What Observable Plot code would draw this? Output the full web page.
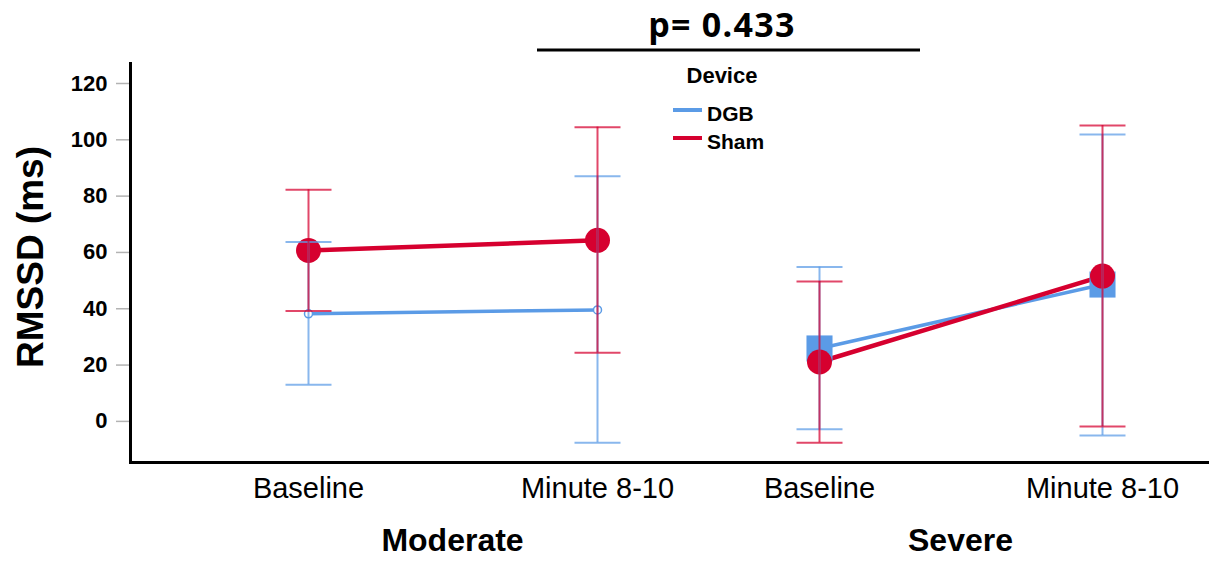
<!DOCTYPE html>
<html>
<head>
<meta charset="utf-8">
<script src="https://cdn.jsdelivr.net/npm/d3@7"></script>
<script src="https://cdn.jsdelivr.net/npm/@observablehq/plot@0.6"></script>
<style>
  body { margin: 0; background: #fff; }
  #wrap { position: relative; width: 1209px; height: 561px; overflow: hidden; font-family: "Liberation Sans", Arial, sans-serif; }
  #wrap > svg { position: absolute; top: 0; }
</style>
</head>
<body>
<div id="wrap"></div>
<script>
// ---- data ----
const devices = ["DGB", "Sham"];
const groups = ["Moderate", "Severe"];
const times = ["Baseline", "Minute 8-10"];
// order: Moderate-Baseline, Moderate-Minute 8-10, Severe-Baseline, Severe-Minute 8-10
const dgbMean  = [38.2, 39.6, 25.9, 48.6];
const dgbLow   = [13.0, -7.6, -2.8, -5.0];
const dgbHigh  = [63.7, 87.1, 54.8, 101.9];
const shamMean = [60.7, 64.3, 21.1, 51.6];
const shamLow  = [39.2, 24.4, -7.6, -1.8];
const shamHigh = [82.3, 104.5, 49.7, 105.1];
const yTicks = [0, 20, 40, 60, 80, 100, 120];
const yDomain = [-14.6, 127.1];
const yLabel = "RMSSD (ms)";
const titleText = "p= 0.433";
const legendTitle = "Device";

const colors = { DGB: "#5b9be6", Sham: "#d6002f" };

const rows = [];
groups.forEach((g, gi) => times.forEach((t, ti) => {
  const i = gi * 2 + ti;
  rows.push({ group: g, time: t, device: "DGB", mean: dgbMean[i], low: dgbLow[i], high: dgbHigh[i] });
  rows.push({ group: g, time: t, device: "Sham", mean: shamMean[i], low: shamLow[i], high: shamHigh[i] });
}));

const FONT = "Liberation Sans, Arial, sans-serif";
const H = 561, MT = 63, MB = 99;

// horizontal cap symbol for error bars
const capSymbol = { draw(ctx) { ctx.moveTo(-23, 0); ctx.lineTo(23, 0); } };

function errorMarks(d, color) {
  const o = { x: "time", stroke: color, strokeWidth: 2, strokeOpacity: 0.72 };
  return [
    Plot.ruleX(d, { ...o, y1: "low", y2: "high" }),
    Plot.dot(d, { ...o, y: "low", symbol: capSymbol, fill: "none" }),
    Plot.dot(d, { ...o, y: "high", symbol: capSymbol, fill: "none" })
  ];
}

function panel(group, cfg) {
  const d = rows.filter(r => r.group === group);
  const dgb = d.filter(r => r.device === "DGB");
  const sham = d.filter(r => r.device === "Sham");
  const dgbMarker = cfg.square
    ? Plot.dot(dgb, { x: "time", y: "mean", symbol: "square", r: 14.7, fill: colors.DGB })
    : Plot.dot(dgb, { x: "time", y: "mean", r: 4, fill: "white", stroke: colors.DGB, strokeWidth: 1.5 });
  const marks = [
    Plot.line(dgb, { x: "time", y: "mean", stroke: colors.DGB, strokeWidth: 3.5 }),
    Plot.line(sham, { x: "time", y: "mean", stroke: colors.Sham, strokeWidth: 4.5 }),
    dgbMarker,
    Plot.dot(sham, { x: "time", y: "mean", r: 12.5, fill: colors.Sham }),
    ...errorMarks(dgb, colors.DGB),
    ...errorMarks(sham, colors.Sham),
    Plot.ruleY([yDomain[0]], { stroke: "black", strokeWidth: 3 }),
    Plot.axisX({ tickSize: 0, tickPadding: 15, fontSize: 29, label: null, fill: "black" })
  ];
  if (cfg.yAxis) {
    marks.push(Plot.axisY({ ticks: yTicks, tickSize: 14, tickPadding: 9, stroke: "#b3b3b3", strokeWidth: 1.5,
      fontSize: 22, fontWeight: "bold", label: null, fill: "black" }));
    marks.push(Plot.frame({ anchor: "left", stroke: "black", strokeWidth: 3 }));
  }
  return Plot.plot({
    width: cfg.width, height: H,
    marginTop: MT, marginBottom: MB, marginLeft: cfg.marginLeft, marginRight: 0,
    style: { fontFamily: FONT, background: "transparent", overflow: "visible", color: "black" },
    x: { type: "point", domain: times, padding: 0, insetLeft: cfg.insetLeft, insetRight: cfg.insetRight },
    y: { domain: yDomain, axis: cfg.yAxis ? undefined : null },
    marks
  });
}

const wrap = document.getElementById("wrap");
const p1 = panel("Moderate", { width: 697, marginLeft: 130, insetLeft: 178, insetRight: 100, yAxis: true, square: false });
const p2 = panel("Severe", { width: 512, marginLeft: 0, insetLeft: 122, insetRight: 107, yAxis: false, square: true });
p1.style.left = "0px";
p2.style.left = "697px";
wrap.appendChild(p1);
wrap.appendChild(p2);

// overlay: title, legend, axis titles
const svg = d3.select(wrap).append("svg")
  .attr("width", 1209).attr("height", H)
  .style("left", "0px").style("pointer-events", "none")
  .attr("font-family", FONT);

svg.append("text").text(titleText)
  .attr("x", 722).attr("y", 37).attr("text-anchor", "middle")
  .attr("font-family", "Open Sans, Lato, sans-serif").attr("font-weight", "bold").attr("font-size", 34)
  .attr("letter-spacing", 1.3);
svg.append("line").attr("x1", 537).attr("x2", 920).attr("y1", 50).attr("y2", 50)
  .attr("stroke", "black").attr("stroke-width", 3);

svg.append("text").text(legendTitle)
  .attr("x", 722).attr("y", 83).attr("text-anchor", "middle")
  .attr("font-weight", "bold").attr("font-size", 22);
const legY = [110, 138], legBase = [120.7, 149.3];
devices.forEach((dv, i) => {
  svg.append("line").attr("x1", 673).attr("x2", 702).attr("y1", legY[i]).attr("y2", legY[i])
    .attr("stroke", colors[dv]).attr("stroke-width", 4);
  svg.append("text").text(dv).attr("x", 707).attr("y", legBase[i])
    .attr("font-weight", "bold").attr("font-size", 21);
});

svg.append("text").text(yLabel)
  .attr("transform", "translate(43,257) rotate(-90)")
  .attr("text-anchor", "middle").attr("font-weight", "bold").attr("font-size", 37);

// group labels centred between each panel's two x positions
[[p1, 0, groups[0]], [p2, 697, groups[1]]].forEach(([p, off, g]) => {
  const xs = p.scale("x");
  const cx = off + (xs.apply(times[0]) + xs.apply(times[1])) / 2;
  svg.append("text").text(g).attr("x", cx).attr("y", 551).attr("text-anchor", "middle")
    .attr("font-weight", "bold").attr("font-size", 32);
});
</script>
</body>
</html>
